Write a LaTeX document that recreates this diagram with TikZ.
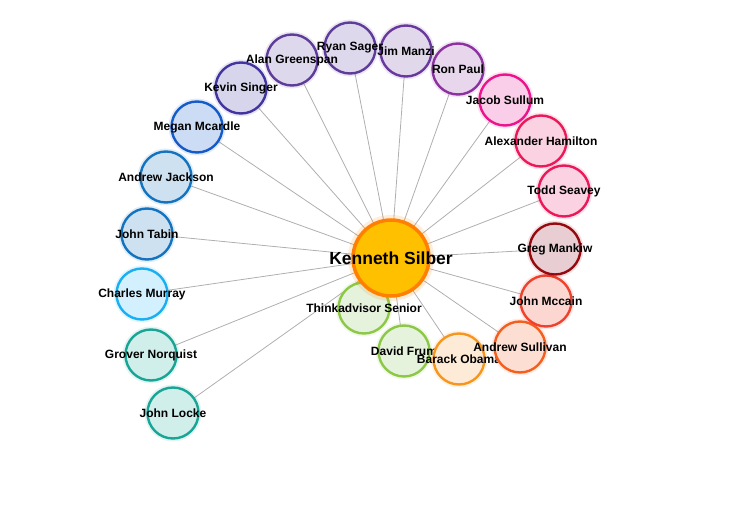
\documentclass[tikz,border=0pt]{standalone}
\usepackage{fontspec}
\setmainfont{Liberation Sans}
\usetikzlibrary{positioning}
\pgfdeclarelayer{background}
\pgfsetlayers{background,main}
\definecolor{edgegray}{RGB}{175,175,175}
\definecolor{purpdark}{RGB}{94,60,153}   \definecolor{purpdarklight}{RGB}{222,216,236}
\definecolor{indigo}{RGB}{66,52,158}     \definecolor{indigolight}{RGB}{214,213,236}
\definecolor{violet}{RGB}{104,56,156}    \definecolor{violetlight}{RGB}{226,216,236}
\definecolor{plum}{RGB}{140,50,160}      \definecolor{plumlight}{RGB}{232,214,236}
\definecolor{magenta}{RGB}{235,20,140}   \definecolor{magentalight}{RGB}{250,205,232}
\definecolor{rosered}{RGB}{235,25,90}    \definecolor{roseredlight}{RGB}{250,210,225}
\definecolor{darkred}{RGB}{150,10,15}    \definecolor{darkredlight}{RGB}{232,205,210}
\definecolor{redorange}{RGB}{240,65,45}  \definecolor{redorangelight}{RGB}{252,215,210}
\definecolor{tangerine}{RGB}{245,95,30}  \definecolor{tangerinelight}{RGB}{253,222,210}
\definecolor{amber}{RGB}{247,150,30}     \definecolor{amberlight}{RGB}{254,235,215}
\definecolor{leaf}{RGB}{140,200,70}      \definecolor{leaflight}{RGB}{230,243,220}
\definecolor{royal}{RGB}{20,90,200}      \definecolor{royallight}{RGB}{205,220,245}
\definecolor{ocean}{RGB}{20,115,190}     \definecolor{oceanlight}{RGB}{206,225,240}
\definecolor{sky}{RGB}{25,175,240}       \definecolor{skylight}{RGB}{210,240,253}
\definecolor{teal}{RGB}{25,165,150}      \definecolor{teallight}{RGB}{208,238,234}
\definecolor{hubfill}{RGB}{255,192,0}    \definecolor{hubline}{RGB}{255,127,0}

\begin{document}
\begin{tikzpicture}[
    x=1pt,y=-1pt,
    person/.style={circle,draw=#1,fill=#1light,line width=2.4pt,minimum size=51pt,
      inner sep=0pt,preaction={draw=#1,draw opacity=0.12,line width=6pt}},
    tag/.style={inner sep=0pt,font=\bfseries\fontsize{12}{12}\selectfont},
    hub/.style={circle,draw=hubline,fill=hubfill,line width=3.5pt,minimum size=76pt,
      inner sep=0pt,preaction={draw=hubline,draw opacity=0.15,line width=10pt}},
    hubtag/.style={inner sep=0pt,font=\bfseries\fontsize{17.5}{17.5}\selectfont},
    link/.style={draw=edgegray,line width=0.8pt}
  ]
    \useasboundingbox (0,0) rectangle (729,511);
    % satellites, drawn in ring order
    \node[person=leaf,label={[tag]center:Thinkadvisor Senior}] (thinkadvisor) at (364,308) {};
    \node[person=leaf,label={[tag]center:David Frum}] (frum) at (404,351) {};
    \node[person=amber,label={[tag]center:Barack Obama}] (obama) at (459,359) {};
    \node[person=tangerine,label={[tag]center:Andrew Sullivan}] (sullivan) at (520,347) {};
    \node[person=redorange,label={[tag]center:John Mccain}] (mccain) at (546,301) {};
    \node[person=darkred,label={[tag]center:Greg Mankiw}] (mankiw) at (555,249) {};
    \node[person=rosered,label={[tag]center:Todd Seavey}] (seavey) at (564,191) {};
    \node[person=rosered,label={[tag]center:Alexander Hamilton}] (hamilton) at (541,141) {};
    \node[person=magenta,label={[tag]center:Jacob Sullum}] (sullum) at (505,100) {};
    \node[person=plum,label={[tag]center:Ron Paul}] (paul) at (458,69) {};
    \node[person=violet,label={[tag]center:Jim Manzi}] (manzi) at (406,51) {};
    \node[person=purpdark,label={[tag]center:Ryan Sager}] (sager) at (350,48) {};
    \node[person=purpdark,label={[tag]center:Alan Greenspan}] (greenspan) at (292,60) {};
    \node[person=indigo,label={[tag]center:Kevin Singer}] (singer) at (241,88) {};
    \node[person=royal,label={[tag]center:Megan Mcardle}] (mcardle) at (197,127) {};
    \node[person=ocean,label={[tag]center:Andrew Jackson}] (jackson) at (166,177) {};
    \node[person=ocean,label={[tag]center:John Tabin}] (tabin) at (147,234) {};
    \node[person=sky,label={[tag]center:Charles Murray}] (murray) at (142,294) {};
    \node[person=teal,label={[tag]center:Grover Norquist}] (norquist) at (151,355) {};
    \node[person=teal,label={[tag]center:John Locke}] (locke) at (173,413) {};
    % centre
    \node[hub,label={[hubtag]center:Kenneth Silber}] (silber) at (391,258) {};

    \begin{pgfonlayer}{background}
      \foreach \who in {thinkadvisor,frum,obama,sullivan,mccain,mankiw,seavey,
          hamilton,sullum,paul,manzi,sager,greenspan,singer,mcardle,jackson,
          tabin,murray,norquist,locke}
        \draw[link] (silber.center) -- (\who.center);
    \end{pgfonlayer}
  \end{tikzpicture}
\end{document}
